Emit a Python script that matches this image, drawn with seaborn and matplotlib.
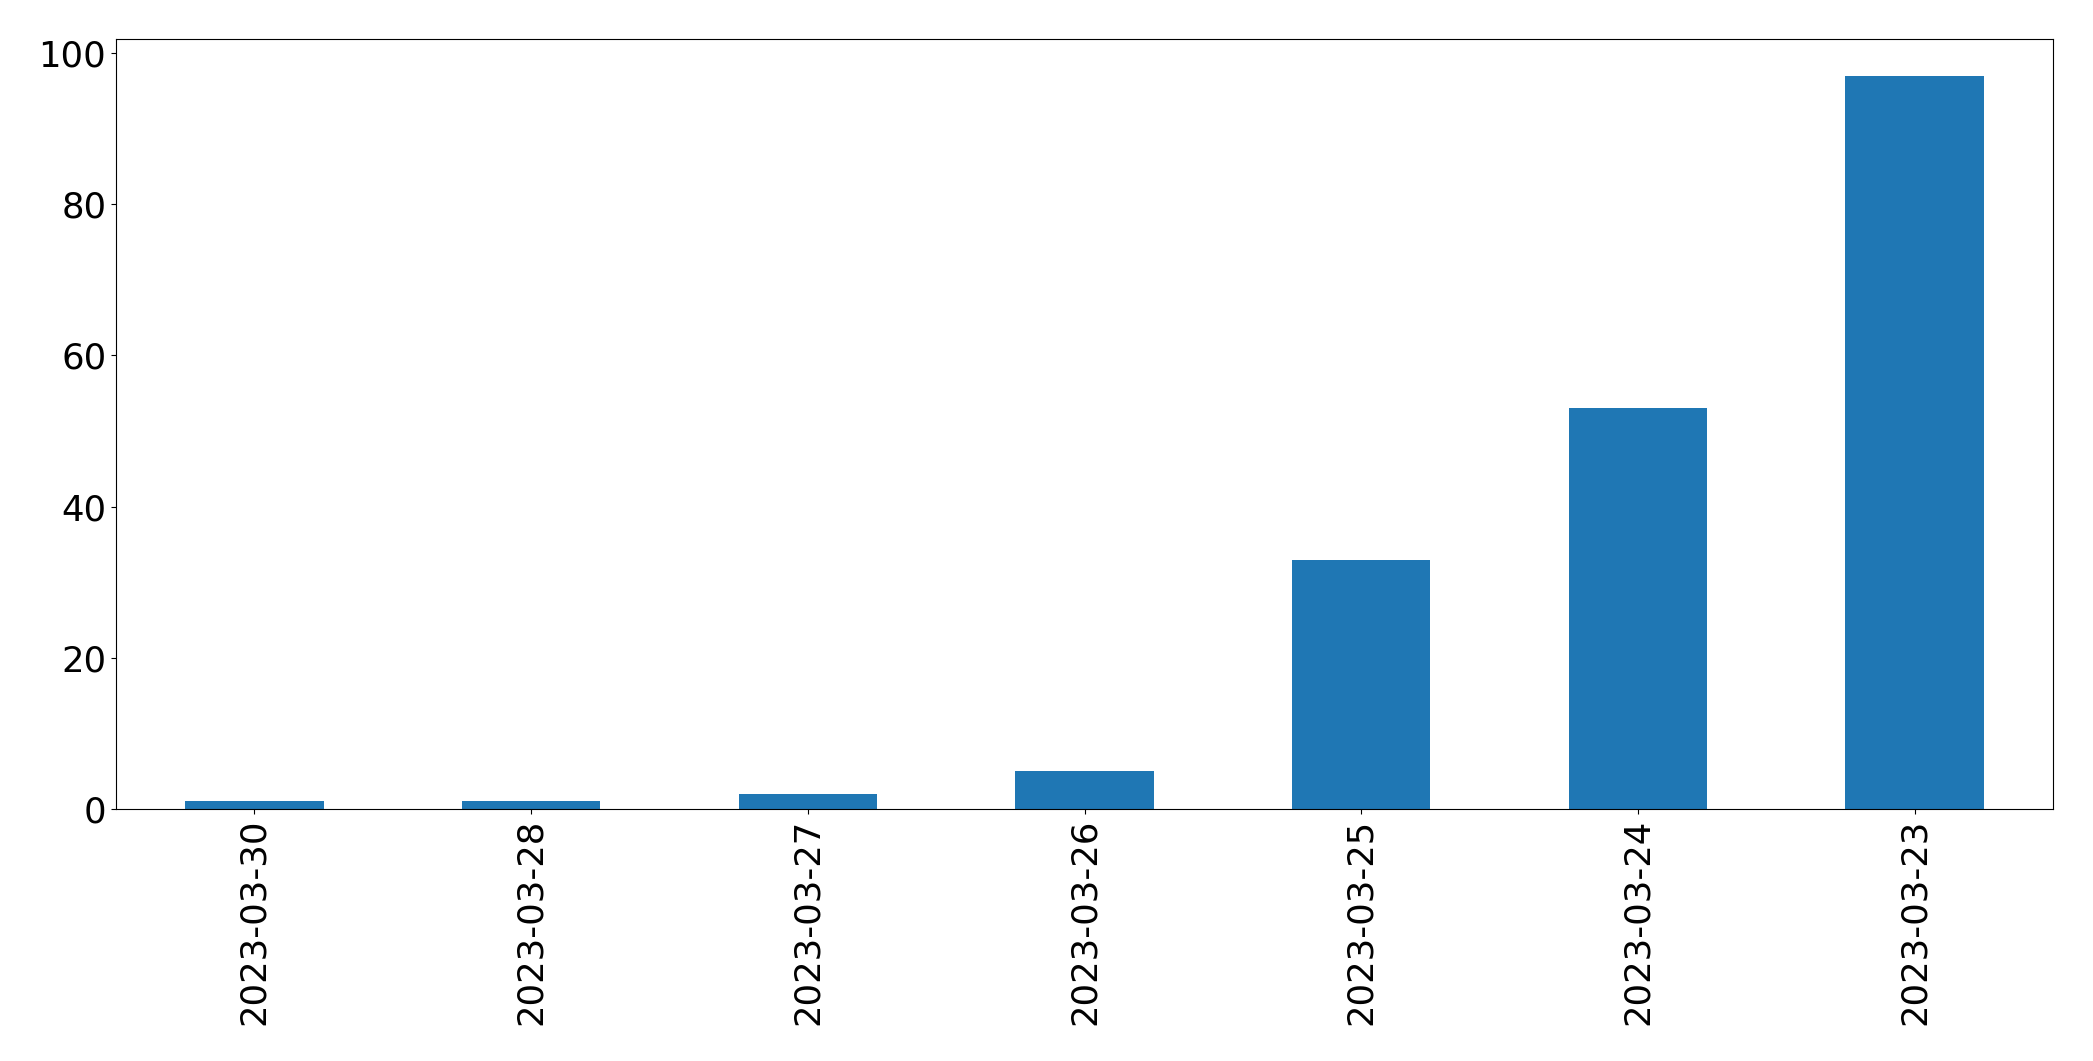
import pandas as pd
import matplotlib
matplotlib.use('Agg')
import matplotlib.pyplot as plt
import seaborn as sns

# dados do grafico
datas = ['2023-03-30', '2023-03-28', '2023-03-27', '2023-03-26',
         '2023-03-25', '2023-03-24', '2023-03-23']
contagens = [1, 1, 2, 5, 33, 53, 97]

df = pd.DataFrame({'data': datas, 'contagem': contagens})

plt.rcParams['font.family'] = ['DejaVu Sans']
plt.rcParams['font.size'] = 25.6

fig, ax = plt.subplots(figsize=(20.93, 10.61), dpi=100)
sns.barplot(x='data', y='contagem', data=df, color='#1f77b4',
            saturation=1, width=0.5, ax=ax)
ax.set_xlim(-0.5, len(datas) - 0.5)
ax.set_xlabel('')
ax.set_ylabel('')
ax.tick_params(axis='both', labelsize=25.6)
plt.xticks(rotation=90)
fig.subplots_adjust(left=116 / 2093, right=2053 / 2093,
                    top=1 - 39 / 1061, bottom=1 - 809 / 1061)
fig.savefig('out.png', dpi=100)
